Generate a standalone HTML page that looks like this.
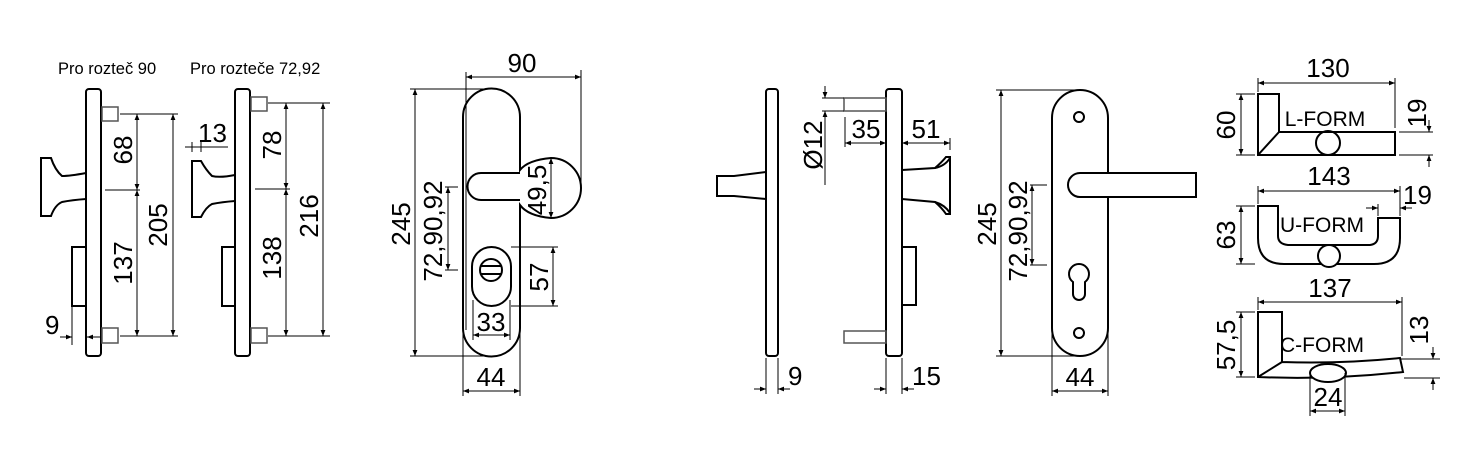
<!DOCTYPE html>
<html><head><meta charset="utf-8"><style>
html,body{margin:0;padding:0;background:#fff;}
svg{display:block;}
text{font-family:"Liberation Sans",Arial,sans-serif;fill:#000;}
.o{fill:none;stroke:#000;stroke-width:2;}
.g{fill:none;stroke:#555;stroke-width:1.5;}
.d{fill:none;stroke:#000;stroke-width:1;}
.t{font-size:26px;}
.s{font-size:16.5px;}
.f{font-size:21px;}
</style></head><body>
<svg width="1478" height="467" viewBox="0 0 1478 467" xmlns="http://www.w3.org/2000/svg">
<defs>
<marker id="a" viewBox="0 0 10 10" refX="10" refY="5" markerWidth="8" markerHeight="6" orient="auto-start-reverse" markerUnits="userSpaceOnUse"><path d="M0,1 L10,5 L0,9 z" fill="#000"/></marker>
</defs>

<!-- ===== Section 1 ===== -->
<text x="58" y="74" class="s">Pro rozteč 90</text>
<rect x="86" y="89" width="15" height="267" rx="3" class="o"/>
<rect x="102" y="107" width="16" height="14" class="g"/>
<rect x="102" y="328" width="16" height="15" class="g"/>
<path class="o" d="M86,173 Q70,176 62,176 Q55,170 51,158 L41,158 L41,216 L51,216 Q55,205 62,202 Q72,200 86,199"/>
<path class="o" d="M86,247 L72,247 L72,306 L86,306"/>
<line class="d" x1="120" y1="114" x2="178" y2="114"/>
<line class="d" x1="120" y1="336" x2="178" y2="336"/>
<line class="d" x1="105" y1="190" x2="140" y2="190"/>
<line class="d" x1="137" y1="114" x2="137" y2="190" marker-start="url(#a)" marker-end="url(#a)"/>
<line class="d" x1="137" y1="190" x2="137" y2="336" marker-start="url(#a)" marker-end="url(#a)"/>
<line class="d" x1="173" y1="114" x2="173" y2="336" marker-start="url(#a)" marker-end="url(#a)"/>
<text class="t" transform="translate(132,150) rotate(-90)" text-anchor="middle">68</text>
<text class="t" transform="translate(132,263) rotate(-90)" text-anchor="middle">137</text>
<text class="t" transform="translate(167,225) rotate(-90)" text-anchor="middle">205</text>
<line class="d" x1="72" y1="306" x2="72" y2="345"/>
<line class="d" x1="60" y1="337" x2="72" y2="337" marker-end="url(#a)"/>
<line class="d" x1="100" y1="337" x2="87" y2="337" marker-end="url(#a)"/>
<text class="t" x="45" y="334">9</text>

<!-- ===== Section 2 ===== -->
<text x="190" y="74" class="s">Pro rozteče 72,92</text>
<rect x="235" y="89" width="15" height="267" rx="3" class="o"/>
<rect x="251" y="97" width="16" height="14" class="g"/>
<rect x="251" y="328" width="16" height="15" class="g"/>
<path class="o" d="M235,175 Q220,178 212,176 Q206,170 201,161 L192,161 L192,217 L201,217 Q206,207 212,204 Q222,202 235,201"/>
<path class="o" d="M235,247 L222,247 L222,306 L235,306"/>
<line class="d" x1="268" y1="103" x2="330" y2="103"/>
<line class="d" x1="268" y1="336" x2="330" y2="336"/>
<line class="d" x1="255" y1="189" x2="290" y2="189"/>
<line class="d" x1="286" y1="103" x2="286" y2="189" marker-start="url(#a)" marker-end="url(#a)"/>
<line class="d" x1="286" y1="189" x2="286" y2="336" marker-start="url(#a)" marker-end="url(#a)"/>
<line class="d" x1="323" y1="103" x2="323" y2="336" marker-start="url(#a)" marker-end="url(#a)"/>
<text class="t" transform="translate(281,145) rotate(-90)" text-anchor="middle">78</text>
<text class="t" transform="translate(281,258) rotate(-90)" text-anchor="middle">138</text>
<text class="t" transform="translate(318,216) rotate(-90)" text-anchor="middle">216</text>
<line class="d" x1="192" y1="142" x2="192" y2="152"/>
<line class="d" x1="201" y1="142" x2="201" y2="152"/>
<line class="d" x1="185" y1="147" x2="228" y2="147"/>
<text class="t" x="198" y="142">13</text>

<!-- ===== Section 3 ===== -->
<path class="o" d="M463,117 A28.5,28.5 0 0 1 520,117 L520,170 Q528,160 551,158 A30,30 0 0 1 551,218 Q528,216 520,205 L520,328 A28.5,28.5 0 0 1 463,328 Z"/>
<path class="o" d="M520,173 L481,173 A13.5,13.5 0 0 0 481,200 L520,200"/>
<path class="d" d="M466,110 L466,330"/>
<rect x="472" y="247" width="39" height="59" rx="19.5" class="o"/>
<circle cx="491" cy="270" r="11" class="o"/>
<line class="o" x1="481" y1="266" x2="501" y2="266"/>
<line class="o" x1="481" y1="274" x2="501" y2="274"/>
<line class="d" x1="466" y1="72" x2="466" y2="110"/>
<line class="d" x1="581" y1="70" x2="581" y2="188"/>
<line class="d" x1="466" y1="77" x2="581" y2="77" marker-start="url(#a)" marker-end="url(#a)"/>
<text class="t" x="522" y="72" text-anchor="middle">90</text>
<line class="d" x1="410" y1="89" x2="485" y2="89"/>
<line class="d" x1="410" y1="356" x2="485" y2="356"/>
<line class="d" x1="415" y1="89" x2="415" y2="356" marker-start="url(#a)" marker-end="url(#a)"/>
<text class="t" transform="translate(410,224) rotate(-90)" text-anchor="middle">245</text>
<line class="d" x1="445" y1="187" x2="458" y2="187"/>
<line class="d" x1="445" y1="270" x2="458" y2="270"/>
<line class="d" x1="448" y1="187" x2="448" y2="270" marker-start="url(#a)" marker-end="url(#a)"/>
<text class="t" transform="translate(442,231) rotate(-90)" text-anchor="middle">72,90,92</text>
<line class="d" x1="551" y1="158" x2="551" y2="218" marker-start="url(#a)" marker-end="url(#a)"/>
<text class="t" transform="translate(546,190) rotate(-90)" text-anchor="middle">49,5</text>
<line class="d" x1="511" y1="247" x2="558" y2="247"/>
<line class="d" x1="511" y1="306" x2="558" y2="306"/>
<line class="d" x1="553" y1="247" x2="553" y2="306" marker-start="url(#a)" marker-end="url(#a)"/>
<text class="t" transform="translate(548,277) rotate(-90)" text-anchor="middle">57</text>
<line class="d" x1="473" y1="300" x2="473" y2="340"/>
<line class="d" x1="510" y1="300" x2="510" y2="340"/>
<line class="d" x1="473" y1="335" x2="510" y2="335" marker-start="url(#a)" marker-end="url(#a)"/>
<text class="t" x="491" y="331" text-anchor="middle">33</text>
<line class="d" x1="463" y1="330" x2="463" y2="396"/>
<line class="d" x1="520" y1="330" x2="520" y2="396"/>
<line class="d" x1="463" y1="391" x2="520" y2="391" marker-start="url(#a)" marker-end="url(#a)"/>
<text class="t" x="491" y="386" text-anchor="middle">44</text>

<!-- ===== Section 4 ===== -->
<rect x="766" y="89" width="12" height="267" rx="3" class="o"/>
<path class="o" d="M766,172 L734,176 L717,176 L717,196 L734,196 L766,199"/>
<line class="d" x1="766" y1="358" x2="766" y2="394"/>
<line class="d" x1="778" y1="358" x2="778" y2="394"/>
<line class="d" x1="754" y1="389" x2="766" y2="389" marker-end="url(#a)"/>
<line class="d" x1="790" y1="389" x2="778" y2="389" marker-end="url(#a)"/>
<text class="t" x="788" y="385">9</text>

<rect x="886" y="89" width="16" height="267" rx="3" class="o"/>
<rect x="844" y="98" width="42" height="13" class="g"/>
<rect x="844" y="331" width="42" height="12" class="g"/>
<path class="o" d="M902,247 L916,247 L916,305 L902,305"/>
<path class="o" d="M902,170 L935,168 Q942,162 946,157 L950,157 L950,214 L946,214 Q942,208 935,202 L902,199"/>
<path class="o" d="M935,168 Q945,166 950,158 M935,202 Q945,205 950,213"/>
<line class="d" x1="822" y1="98" x2="844" y2="98"/>
<line class="d" x1="822" y1="111" x2="844" y2="111"/>
<line class="d" x1="825" y1="86" x2="825" y2="98" marker-end="url(#a)"/>
<line class="d" x1="825" y1="185" x2="825" y2="111" marker-end="url(#a)"/>
<text class="t" transform="translate(822,145) rotate(-90)" text-anchor="middle">Ø12</text>
<line class="d" x1="845" y1="117" x2="845" y2="147"/>
<line class="d" x1="845" y1="143" x2="886" y2="143" marker-start="url(#a)" marker-end="url(#a)"/>
<text class="t" x="866" y="138" text-anchor="middle">35</text>
<line class="d" x1="950" y1="138" x2="950" y2="150"/>
<line class="d" x1="902" y1="143" x2="950" y2="143" marker-start="url(#a)" marker-end="url(#a)"/>
<text class="t" x="926" y="138" text-anchor="middle">51</text>
<line class="d" x1="886" y1="358" x2="886" y2="394"/>
<line class="d" x1="902" y1="358" x2="902" y2="394"/>
<line class="d" x1="874" y1="389" x2="886" y2="389" marker-end="url(#a)"/>
<line class="d" x1="914" y1="389" x2="902" y2="389" marker-end="url(#a)"/>
<text class="t" x="912" y="385">15</text>

<!-- ===== Section 5 ===== -->
<rect x="1052" y="90" width="56" height="266" rx="28" class="o"/>
<circle cx="1079" cy="117" r="5" class="o"/>
<circle cx="1079" cy="333" r="5" class="o"/>
<path d="M1080,173 L1196,173 L1196,197 L1080,197 A12,12 0 0 1 1080,173 Z" fill="#fff" stroke="#000" stroke-width="2"/>
<path class="o" d="M1073,282 L1073,294 A6,6 0 0 0 1085,294 L1085,282 A10,10 0 1 0 1073,282 Z"/>
<line class="d" x1="996" y1="90" x2="1078" y2="90"/>
<line class="d" x1="996" y1="356" x2="1078" y2="356"/>
<line class="d" x1="1001" y1="90" x2="1001" y2="356" marker-start="url(#a)" marker-end="url(#a)"/>
<text class="t" transform="translate(996,224) rotate(-90)" text-anchor="middle">245</text>
<line class="d" x1="1030" y1="185" x2="1047" y2="185"/>
<line class="d" x1="1030" y1="265" x2="1047" y2="265"/>
<line class="d" x1="1032" y1="185" x2="1032" y2="265" marker-start="url(#a)" marker-end="url(#a)"/>
<text class="t" transform="translate(1027,231) rotate(-90)" text-anchor="middle">72,90,92</text>
<line class="d" x1="1052" y1="330" x2="1052" y2="396"/>
<line class="d" x1="1108" y1="330" x2="1108" y2="396"/>
<line class="d" x1="1052" y1="391" x2="1108" y2="391" marker-start="url(#a)" marker-end="url(#a)"/>
<text class="t" x="1080" y="386" text-anchor="middle">44</text>

<!-- ===== Section 6 ===== -->
<path class="o" d="M1258,94 L1279,94 L1279,132 L1395,132 L1395,155 L1258,155 Z M1258,155 L1279,132"/>
<circle cx="1328" cy="143" r="12" class="o"/>
<text class="f" x="1325" y="126" text-anchor="middle">L-FORM</text>
<line class="d" x1="1258" y1="78" x2="1258" y2="92"/>
<line class="d" x1="1395" y1="78" x2="1395" y2="128"/>
<line class="d" x1="1258" y1="83" x2="1395" y2="83" marker-start="url(#a)" marker-end="url(#a)"/>
<text class="t" x="1328" y="77" text-anchor="middle">130</text>
<line class="d" x1="1236" y1="94" x2="1255" y2="94"/>
<line class="d" x1="1236" y1="155" x2="1255" y2="155"/>
<line class="d" x1="1241" y1="94" x2="1241" y2="155" marker-start="url(#a)" marker-end="url(#a)"/>
<text class="t" transform="translate(1235,125) rotate(-90)" text-anchor="middle">60</text>
<line class="d" x1="1399" y1="132" x2="1433" y2="132"/>
<line class="d" x1="1399" y1="155" x2="1433" y2="155"/>
<line class="d" x1="1429" y1="120" x2="1429" y2="132" marker-end="url(#a)"/>
<line class="d" x1="1429" y1="167" x2="1429" y2="155" marker-end="url(#a)"/>
<text class="t" transform="translate(1426,113) rotate(-90)" text-anchor="middle">19</text>

<path class="o" d="M1258,206 L1278,206 L1278,236 Q1278,244 1288,245 L1370,245 Q1378,244 1378,236 L1378,218 L1400,218 L1400,238 Q1400,264 1374,264 L1284,264 Q1258,264 1258,238 Z"/>
<circle cx="1329" cy="256" r="11" fill="#fff" stroke="#000" stroke-width="2"/>
<text class="f" x="1322" y="232" text-anchor="middle">U-FORM</text>
<line class="d" x1="1258" y1="186" x2="1258" y2="204"/>
<line class="d" x1="1400" y1="186" x2="1400" y2="216"/>
<line class="d" x1="1258" y1="191" x2="1400" y2="191" marker-start="url(#a)" marker-end="url(#a)"/>
<text class="t" x="1329" y="185" text-anchor="middle">143</text>
<line class="d" x1="1236" y1="206" x2="1255" y2="206"/>
<line class="d" x1="1236" y1="264" x2="1255" y2="264"/>
<line class="d" x1="1241" y1="206" x2="1241" y2="264" marker-start="url(#a)" marker-end="url(#a)"/>
<text class="t" transform="translate(1235,235) rotate(-90)" text-anchor="middle">63</text>
<line class="d" x1="1378" y1="204" x2="1378" y2="216"/>
<line class="d" x1="1366" y1="208" x2="1378" y2="208" marker-end="url(#a)"/>
<line class="d" x1="1412" y1="208" x2="1400" y2="208" marker-end="url(#a)"/>
<text class="t" x="1403" y="204">19</text>

<path class="o" d="M1258,312 L1282,312 L1282,362 Q1340,364 1400,358 L1403,372 Q1330,380 1258,377 Z M1258,377 L1282,362"/>
<ellipse cx="1328" cy="373" rx="18" ry="9" fill="#fff" stroke="#000" stroke-width="2"/>
<text class="f" x="1322" y="352" text-anchor="middle">C-FORM</text>
<line class="d" x1="1258" y1="297" x2="1258" y2="310"/>
<line class="d" x1="1402" y1="297" x2="1402" y2="356"/>
<line class="d" x1="1258" y1="302" x2="1402" y2="302" marker-start="url(#a)" marker-end="url(#a)"/>
<text class="t" x="1330" y="297" text-anchor="middle">137</text>
<line class="d" x1="1236" y1="312" x2="1255" y2="312"/>
<line class="d" x1="1236" y1="377" x2="1255" y2="377"/>
<line class="d" x1="1241" y1="312" x2="1241" y2="377" marker-start="url(#a)" marker-end="url(#a)"/>
<text class="t" transform="translate(1235,345) rotate(-90)" text-anchor="middle">57,5</text>
<line class="d" x1="1400" y1="359" x2="1440" y2="359"/>
<line class="d" x1="1404" y1="378" x2="1440" y2="378"/>
<line class="d" x1="1433" y1="347" x2="1433" y2="359" marker-end="url(#a)"/>
<line class="d" x1="1433" y1="390" x2="1433" y2="378" marker-end="url(#a)"/>
<text class="t" transform="translate(1428,330) rotate(-90)" text-anchor="middle">13</text>
<line class="d" x1="1310" y1="373" x2="1310" y2="416"/>
<line class="d" x1="1345" y1="373" x2="1345" y2="416"/>
<line class="d" x1="1310" y1="411" x2="1345" y2="411" marker-start="url(#a)" marker-end="url(#a)"/>
<text class="t" x="1328" y="406" text-anchor="middle">24</text>
</svg>
</body></html>
